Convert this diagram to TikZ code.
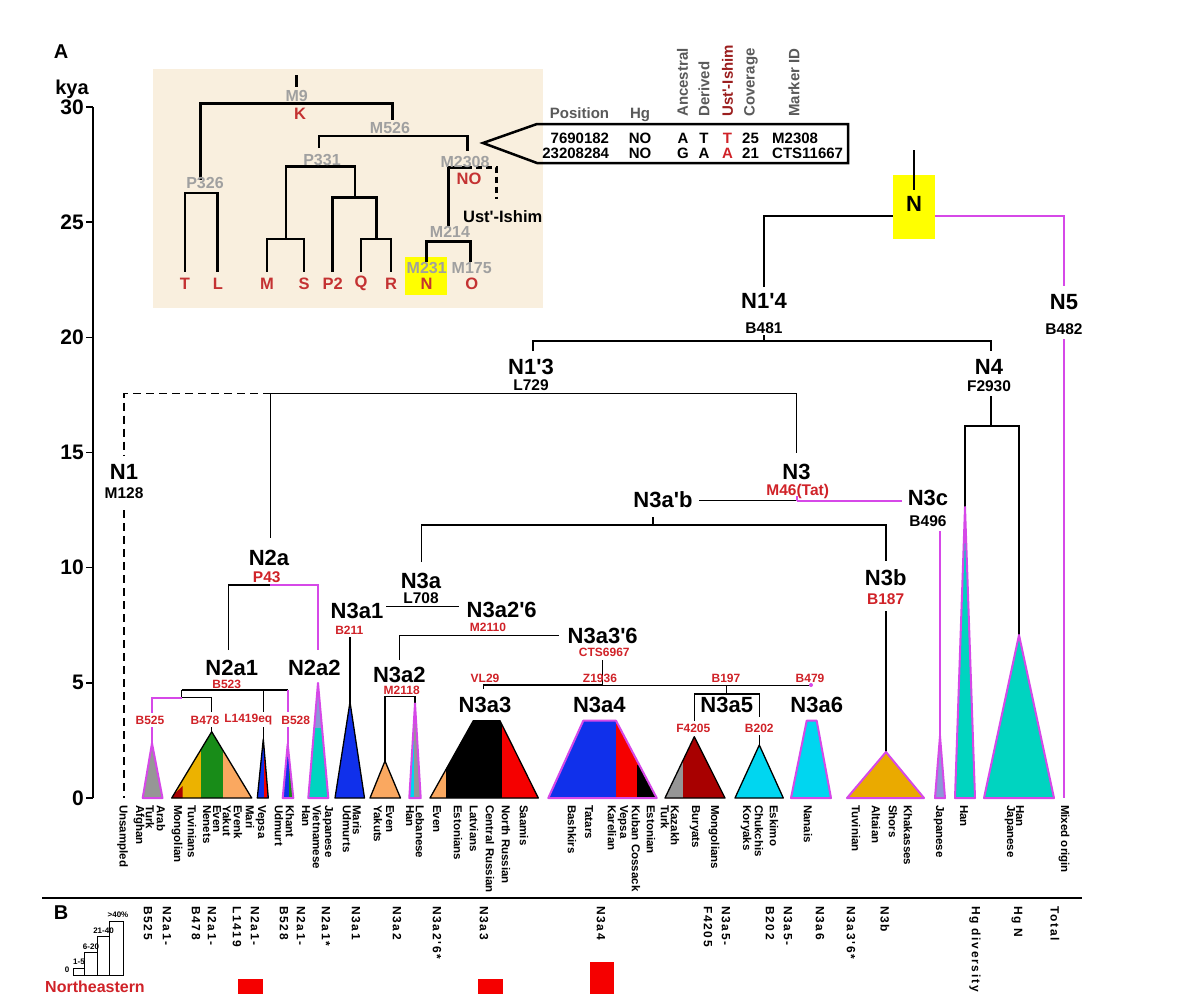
\documentclass[tikz,border=0pt]{standalone}
\usepackage{fontspec}
\setmainfont{Liberation Sans}[Ligatures=TeXOff]
\definecolor{beige}{RGB}{249,239,222}
\definecolor{mygray}{RGB}{160,160,160}
\definecolor{hdrgray}{RGB}{90,90,90}
\definecolor{hdrred}{RGB}{155,30,30}
\definecolor{myred}{RGB}{208,34,40}
\definecolor{inred}{RGB}{196,50,50}
\definecolor{mag}{RGB}{214,72,232}
\definecolor{turq}{RGB}{0,212,192}
\definecolor{cyanf}{RGB}{0,214,240}
\definecolor{bluef}{RGB}{16,48,235}
\definecolor{peach}{RGB}{250,168,96}
\definecolor{golden}{RGB}{236,178,0}
\definecolor{greenf}{RGB}{24,140,24}
\definecolor{darkredf}{RGB}{168,0,0}
\definecolor{redf}{RGB}{245,0,0}
\definecolor{grayf}{RGB}{150,150,150}
\definecolor{goldf}{RGB}{234,170,0}
\definecolor{lav}{RGB}{140,150,215}
\definecolor{yel}{RGB}{255,255,0}
\newcommand\myfs[1]{\fontsize{#1}{#1}\selectfont\bfseries}
\begin{document}
\begin{tikzpicture}[x=1pt,y=-1pt,
  big/.style={inner sep=0pt, font=\myfs{22}},
  mk/.style={inner sep=0pt, font=\myfs{15.5}},
  rmk/.style={mk, text=myred},
  smk/.style={inner sep=0pt, font=\myfs{12}, text=myred},
  pop/.style={inner sep=0pt, rotate=-90, anchor=west, font=\myfs{11.5}},
  bcol/.style={inner sep=0pt, rotate=-90, anchor=west, font=\myfs{12}\addfontfeature{LetterSpace=14}},
  glab/.style={inner sep=0pt, font=\myfs{16}, text=mygray},
  rlab/.style={inner sep=0pt, font=\myfs{16.5}, text=inred},
  hdr/.style={inner sep=0pt, rotate=90, anchor=west, font=\myfs{15}, text=hdrgray},
  cell/.style={inner sep=0pt, font=\myfs{15}},
  tl/.style={line width=1.5pt},
  thin/.style={line width=1pt},
  mgl/.style={line width=2.2pt, draw=mag},
  ins/.style={line width=2.6pt},
  tri/.style={draw=black, line width=1.3pt, line join=round},
  mtri/.style={draw=mag, line width=2pt, line join=round},
  axl/.style={inner sep=0pt, anchor=east, font=\myfs{21}}
]
\useasboundingbox (0,0) rectangle (1200,994);
\fill[white] (0,0) rectangle (1200,994);

% ---------- axis ----------
\node[inner sep=0pt, font=\myfs{20}] (lblA) at (61,52) {A};
\node[inner sep=0pt, font=\myfs{20}] (kya) at (72,89) {kya};
\draw[tl] (93,107) -- (93,798);
\foreach \v [count=\i] in {30,25,20,15,10,5,0} {
  \pgfmathsetmacro\yy{107+(30-\v)*23.03}
  \draw[tl] (86,\yy) -- (93,\yy);
  \node[axl] (ax\i) at (84,\yy) {\v};
}

% ---------- inset ----------
\fill[beige] (153,69) rectangle (543,308);
\fill[yel] (405,256.7) rectangle (446.7,295);
\draw[ins] (296.7,75) -- (296.7,87);
\draw[ins] (200.7,180) -- (200.7,103.3) -- (392.7,103.3) -- (392.7,120);
\draw[ins] (185,271.7) -- (185,193) -- (217.7,193) -- (217.7,271.7);
\draw[ins] (319,148) -- (319,136) -- (467.7,136) -- (467.7,151);
\draw[ins] (286,239) -- (286,166.7) -- (355,166.7) -- (355,197.7);
\draw[ins] (267,271.7) -- (267,239) -- (304,239) -- (304,271.7);
\draw[ins] (332.7,271.7) -- (332.7,197.7) -- (376.7,197.7) -- (376.7,239);
\draw[ins] (361,271.7) -- (361,239) -- (391,239) -- (391,271.7);
\draw[ins] (448.3,226) -- (448.3,167.3) -- (466,167.3);
\draw[ins, dash pattern=on 6pt off 4pt] (466,167.3) -- (496.7,167.3) -- (496.7,199);
\draw[ins] (426.7,261.7) -- (426.7,241.7) -- (470.7,241.7) -- (470.7,261.7);
\node[glab] (iM9) at (296.7,96) {M9};
\node[rlab] (iK) at (300,114) {K};
\node[glab] (iM526) at (390,128) {M526};
\node[glab] (iP326) at (205,183) {P326};
\node[glab] (iP331) at (322,160) {P331};
\node[glab] (iM2308) at (465,161.7) {M2308};
\node[rlab] (iNO) at (469,179) {NO};
\node[inner sep=0pt, font=\myfs{16.5}] (iUst) at (502.7,216.7) {Ust'-Ishim};
\node[glab] (iM214) at (450,231.7) {M214};
\node[glab] (iM231) at (426.7,267.7) {M231};
\node[glab] (iM175) at (471.7,267.7) {M175};
\foreach \x/\t [count=\i] in {185/T,218/L,267/M,304/S,332.7/P2,361/Q,391/R,426.7/N,471.7/O}
  \node[rlab] (leaf\i) at (\x,283.5) {\t};

% ---------- table ----------
\draw[line width=2.5pt, line join=miter] (483,143) -- (537,124) -- (848,124) -- (848,163) -- (537,163) -- cycle;
\node[cell, anchor=base east, text=hdrgray] (hPos) at (609.3,118.3) {Position};
\node[cell, anchor=base, text=hdrgray] (hHg) at (640,118.3) {Hg};
\node[hdr] (hAnc) at (682.5,117) {Ancestral};
\node[hdr] (hDer) at (704,117) {Derived};
\node[hdr, text=hdrred] (hUst) at (727.5,117) {Ust'-Ishim};
\node[hdr] (hCov) at (751,117) {Coverage};
\node[hdr] (hMk) at (794,117) {Marker ID};
\foreach \yy/\p/\a/\d/\u/\c/\m [count=\i] in {138/7690182/A/T/T/25/M2308, 153/23208284/G/A/A/21/CTS11667} {
  \node[cell, anchor=east] (rp\i) at (609.3,\yy) {\p};
  \node[cell] (rh\i) at (640,\yy) {NO};
  \node[cell] (ra\i) at (683,\yy) {\a};
  \node[cell] (rd\i) at (704,\yy) {\d};
  \node[cell, text=myred] (ru\i) at (727.5,\yy) {\u};
  \node[cell] (rc\i) at (750.5,\yy) {\c};
  \node[cell, anchor=west] (rm\i) at (772,\yy) {\m};
}

% ---------- main tree lines ----------
\draw[tl] (764,287) -- (764,216) -- (914,216);
\draw[mgl] (914,216) -- (1064,216) -- (1064,286);
\draw[mgl] (1064,339) -- (1064,798);
\draw[tl] (533,351) -- (533,341) -- (991,341) -- (991,351);
\draw[tl] (764,335) -- (764,341);
\draw[tl] (991,396) -- (991,426);
\draw[tl] (965,507) -- (965,426) -- (1019,426) -- (1019,635);
\draw[tl] (270.7,393.3) -- (796.5,393.3) -- (796.5,453);
\draw[tl, dash pattern=on 8pt off 5pt] (270.7,393.3) -- (124,393.3) -- (124,455);
\draw[tl, dash pattern=on 8pt off 5pt] (124,510) -- (124,798);
\draw[tl] (270.7,393.3) -- (270.7,538);
\draw[tl] (228.5,650) -- (228.5,585) -- (270,585);
\draw[mgl] (270,585) -- (318,585) -- (318,650);
\draw[thin] (699,500.7) -- (796.7,500.7);
\draw[mgl] (796.7,500.7) -- (901.7,500.7);
\draw[mgl] (796.7,496) -- (796.7,500.7);
\draw[tl] (653,517) -- (653,525);
\draw[tl] (421.4,562) -- (421.4,525) -- (886,525) -- (886,561);
\draw[tl] (886,611) -- (886,752);
\draw[mgl, line width=1.8pt] (940,531) -- (940,736);
\draw[tl] (386,606.5) -- (459,606.5);
\draw[tl] (350,637) -- (350,703);
\draw[tl] (399.5,660) -- (399.5,635.5) -- (558.5,635.5);
\draw[tl] (385,761) -- (385,696.7) -- (415,696.7) -- (415,704);
\draw[tl] (602.7,660) -- (602.7,685);
\draw[line width=2.2pt] (483.3,685) -- (602.7,685);
\draw[thin] (602.7,685) -- (811,685);
\draw[tl] (483.3,685) -- (483.3,689);
\fill[mag] (811,685) circle (2);
\draw[tl] (726.7,685) -- (726.7,694);
\draw[tl] (694.3,721) -- (694.3,694) -- (759.3,694) -- (759.3,717);
\draw[tl] (759.3,735) -- (759.3,745);
% N2a1 sub-tree
\draw[tl] (181.7,690) -- (287.7,690);
\draw[tl] (181.7,690) -- (181.7,697.7) -- (211.7,697.7) -- (211.7,712);
\draw[mgl] (181.7,697.7) -- (151.7,697.7) -- (151.7,713);
\draw[tl] (211.7,727) -- (211.7,732);
\draw[mgl] (151.7,727) -- (151.7,744);
\draw[tl] (263.3,690) -- (263.3,712);
\draw[tl] (263.3,727) -- (263.3,740);
\draw[mgl] (287.7,690) -- (287.7,712);
\draw[mgl] (287.7,727) -- (287.7,744);

% ---------- triangles ----------
\fill[grayf] (142.7,798) -- (152,743.3) -- (162.5,798) -- cycle;
\draw[mtri] (142.7,798) -- (152,743.3) -- (162.5,798) -- cycle;
\begin{scope}
\clip (171.7,798) -- (211.7,731.7) -- (251.7,798) -- cycle;
\fill[golden] (170,720) rectangle (201,800);
\fill[greenf] (201,720) rectangle (223.3,800);
\fill[peach] (223.3,720) rectangle (253,800);
\fill[darkredf] (170,798) -- (182.7,786) -- (182.7,800) -- (170,800) -- cycle;
\end{scope}
\draw[tri] (171.7,798) -- (211.7,731.7) -- (251.7,798) -- cycle;
\begin{scope}
\clip (257.3,798) -- (263.3,739) -- (268.3,798) -- cycle;
\fill[bluef] (255,730) rectangle (270,800);
\fill[redf] (264.3,730) rectangle (267.3,800);
\end{scope}
\draw[tri] (257.3,798) -- (263.3,739) -- (268.3,798) -- cycle;
\begin{scope}
\clip (282.7,798) -- (287.7,744) -- (293.3,798) -- cycle;
\fill[bluef] (280,730) rectangle (296,800);
\fill[greenf] (289,730) rectangle (292.5,800);
\end{scope}
\draw[mtri] (282.7,798) -- (287.7,744) -- (293.3,798) -- cycle;
\begin{scope}
\clip (308.3,798) -- (318,683) -- (328.3,798) -- cycle;
\fill[turq] (305,680) rectangle (331,800);
\fill[lav] (305,680) rectangle (331,728);
\end{scope}
\draw[mtri] (308.3,798) -- (318,683) -- (328.3,798) -- cycle;
\fill[bluef] (335,798) -- (350,702) -- (364.5,798) -- cycle;
\draw[tri] (335,798) -- (350,702) -- (364.5,798) -- cycle;
\fill[peach] (370,798) -- (385,761) -- (400.5,798) -- cycle;
\draw[tri] (370,798) -- (385,761) -- (400.5,798) -- cycle;
\begin{scope}
\clip (409.3,798) -- (415,703.3) -- (420.7,798) -- cycle;
\fill[grayf] (407,700) rectangle (423,800);
\fill[cyanf] (407,700) rectangle (414,800);
\end{scope}
\draw[mtri] (409.3,798) -- (415,703.3) -- (420.7,798) -- cycle;
\begin{scope}
\clip (430,798) -- (473.3,720.7) -- (500,720.7) -- (538.3,798) -- cycle;
\fill[black] (428,718) rectangle (540,800);
\fill[peach] (428,718) rectangle (446,800);
\fill[redf] (501.7,718) rectangle (540,800);
\end{scope}
\draw[tri] (430,798) -- (473.3,720.7) -- (500,720.7) -- (538.3,798) -- cycle;
\begin{scope}
\clip (548.3,798) -- (583.3,720.7) -- (616,720.7) -- (656.7,798) -- cycle;
\fill[bluef] (546,718) rectangle (660,800);
\fill[redf] (616,718) rectangle (660,800);
\fill[black] (637.3,765) rectangle (660,800);
\end{scope}
\draw[mtri] (548.3,798) -- (583.3,720.7) -- (616,720.7) -- (656.7,798) -- cycle;
\begin{scope}
\clip (665,798) -- (694.3,736.7) -- (725,798) -- cycle;
\fill[darkredf] (663,730) rectangle (727,800);
\fill[grayf] (663,730) rectangle (683.3,800);
\end{scope}
\draw[tri] (665,798) -- (694.3,736.7) -- (725,798) -- cycle;
\fill[cyanf] (735,798) -- (759.3,745) -- (783.3,798) -- cycle;
\draw[tri] (735,798) -- (759.3,745) -- (783.3,798) -- cycle;
\fill[cyanf] (791,798) -- (806.7,720.7) -- (816.7,720.7) -- (831,798) -- cycle;
\draw[mtri] (791,798) -- (806.7,720.7) -- (816.7,720.7) -- (831,798) -- cycle;
\fill[goldf] (847,798) -- (886,752) -- (924,798) -- cycle;
\draw[mtri] (847,798) -- (886,752) -- (924,798) -- cycle;
\fill[lav] (935,798) -- (940,736) -- (945,798) -- cycle;
\draw[mtri] (935,798) -- (940,736) -- (945,798) -- cycle;
\fill[turq] (955,798) -- (965,507) -- (975,798) -- cycle;
\draw[mtri] (955,798) -- (965,507) -- (975,798) -- cycle;
\fill[turq] (984,798) -- (1019,635) -- (1054,798) -- cycle;
\draw[mtri] (984,798) -- (1019,635) -- (1054,798) -- cycle;

% ---------- main labels ----------
\fill[yel] (893,175) rectangle (935,239);
\draw[tl] (914,150) -- (914,190);
\node[big] (nN) at (914,204) {N};
\node[big] (nN14) at (764,301) {N1'4};
\node[mk] (mB481) at (764,328) {B481};
\node[big] (nN5) at (1064,302) {N5};
\node[mk] (mB482) at (1064,329.5) {B482};
\node[big] (nN4) at (989,367) {N4};
\node[mk] (mF2930) at (989,386) {F2930};
\node[big] (nN13) at (531,367) {N1'3};
\node[mk] (mL729) at (531,385) {L729};
\node[big] (nN1) at (124,471.7) {N1};
\node[mk] (mM128) at (124,493) {M128};
\node[big] (nN3) at (796.5,471.7) {N3};
\node[rmk] (mM46) at (797.7,491) {M46(Tat)};
\node[big] (nN3ab) at (663,499.3) {N3a'b};
\node[big] (nN3c) at (928,498) {N3c};
\node[mk] (mB496) at (928,521) {B496};
\node[big] (nN2a) at (269,557.7) {N2a};
\node[rmk] (mP43) at (266.7,576.7) {P43};
\node[big] (nN3a) at (421,580.7) {N3a};
\node[mk] (mL708) at (421,598.3) {L708};
\node[big] (nN3b) at (885.7,577.5) {N3b};
\node[rmk] (mB187) at (885.7,599.5) {B187};
\node[big] (nN3a1) at (357,611) {N3a1};
\node[smk] (mB211) at (349.3,630) {B211};
\node[big] (nN3a26) at (501.7,610) {N3a2'6};
\node[smk] (mM2110) at (488,627.7) {M2110};
\node[big] (nN3a36) at (602.7,635.5) {N3a3'6};
\node[smk] (mCTS) at (604.3,652.5) {CTS6967};
\node[big] (nN2a1) at (231.7,668.3) {N2a1};
\node[smk] (mB523) at (226.7,684.3) {B523};
\node[big] (nN2a2) at (314.3,668.3) {N2a2};
\node[big] (nN3a2) at (399.3,675) {N3a2};
\node[smk] (mM2118) at (401.7,690.7) {M2118};
\node[smk] (mVL29) at (485,678.3) {VL29};
\node[smk] (mZ1936) at (600,678.3) {Z1936};
\node[smk] (mB197) at (726,678.3) {B197};
\node[smk] (mB479) at (810,678.3) {B479};
\node[big] (nN3a3) at (485,705) {N3a3};
\node[big] (nN3a4) at (599.3,705) {N3a4};
\node[big] (nN3a5) at (726.7,705) {N3a5};
\node[big] (nN3a6) at (816.7,705) {N3a6};
\node[smk] (mB525) at (150,720) {B525};
\node[smk] (mB478) at (205,720) {B478};
\node[smk] (mL1419) at (248.3,720) {L1419eq};
\node[smk] (mB528) at (295.7,720) {B528};
\node[smk] (mF4205) at (693.3,728.3) {F4205};
\node[smk] (mB202) at (759.3,728.3) {B202};

% ---------- population labels ----------
\foreach \x/\t [count=\i] in {122.7/Unsampled, 139/Afghan, 150/Turk, 161/Arab,
  177/Mongolian, 192/Tuvinians, 207/Nenets, 217/Even, 227/Yakut, 238/Evenk,
  250/Mari, 261/Vepsa, 279/Udmurt, 290/Khant, 306/Han, 317/Vietnamese, 328/Japanese,
  347/Udmurts, 357/Maris, 378/Yakuts, 390/Even, 410/Han, 420/Lebanese,
  437/Even, 458/Estonians, 474/Latvians, 490/Central Russian, 506/North Russian, 524/Saamis,
  572/Bashkirs, 589/Tatars, 612/Karelian, 623/Vepsa, 636/Kuban Cossack, 651/Estonian,
  665/Turk, 675/Kazakh, 695/Buryats, 714/Mongolians,
  746/Koryaks, 759/Chukchis, 774/Eskimo, 808/Nanais,
  856/Tuvinian, 876/Altaian, 893/Shors, 908/Khakasses,
  939/Japanese, 964/Han, 1010/Japanese, 1020/Han, 1064/Mixed origin}
  \node[pop] (pop\i) at (\x,805) {\t};

% ---------- part B ----------
\draw[line width=2pt] (42,898) -- (1082,898);
\node[inner sep=0pt, font=\myfs{20}] (lblB) at (61,913) {B};
\draw[line width=0.8pt] (73,975) rectangle (84.7,968.3);
\draw[line width=0.8pt] (84.7,975) rectangle (97.2,952.3);
\draw[line width=0.8pt] (97.2,975) rectangle (109.7,936.7);
\draw[line width=0.8pt] (109.7,975) rectangle (123.6,921);
\node[inner sep=0pt, font=\myfs{8}] (lg0) at (67,970) {0};
\node[inner sep=0pt, font=\myfs{8}] (lg1) at (79,962) {1-5};
\node[inner sep=0pt, font=\myfs{8}] (lg2) at (91,946.5) {6-20};
\node[inner sep=0pt, font=\myfs{8}] (lg3) at (103.5,931) {21-40};
\node[inner sep=0pt, font=\myfs{8}] (lg4) at (118,915) {>40\%};
\foreach \x/\t [count=\i] in {148/B525, 167/N2a1-, 196/B478, 212/N2a1-, 237/L1419, 255/N2a1-,
  284/B528, 301/N2a1-, 326/N2a1*, 356/N3a1, 397/N3a2, 437/N3a2'6*, 484/N3a3, 601/N3a4,
  708/F4205, 726/N3a5-, 770/B202, 788/N3a5-, 820/N3a6, 851/N3a3'6*, 885/N3b,
  975/Hg diversity, 1017/Hg N, 1055/Total}
  \node[bcol] (bc\i) at (\x,906) {\t};
\fill[redf] (238,979) rectangle (263,994);
\fill[redf] (478,979) rectangle (503,994);
\fill[redf] (590,962) rectangle (614,994);
\node[inner sep=0pt, anchor=west, font=\myfs{16}, text=myred] (ne) at (45,987) {Northeastern};
\end{tikzpicture}
\end{document}
